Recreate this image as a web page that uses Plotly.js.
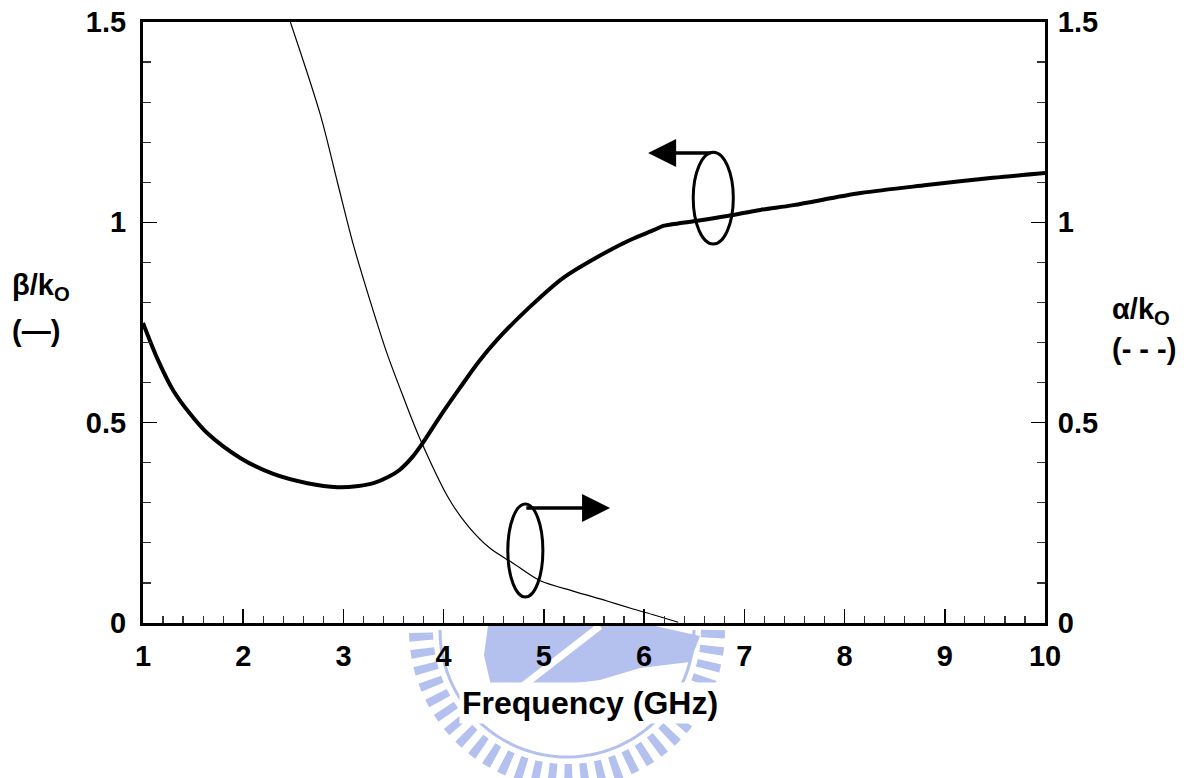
<!DOCTYPE html>
<html>
<head>
<meta charset="utf-8">
<script src="https://cdn.plot.ly/plotly-3.0.1.min.js"></script>
<style>html,body{margin:0;padding:0;background:#fff;}#chart{width:1190px;height:778px;}</style>
</head>
<body>
<div id="chart"></div>
<script>
// beta/k0 (thick curve, left axis)
const betaFreq = [1.00, 1.15, 1.30, 1.47, 1.64, 1.97, 2.30, 2.64, 2.94, 3.15, 3.30, 3.45, 3.56, 3.68, 3.79, 3.96, 4.16, 4.35, 4.53, 4.86, 5.19, 5.53, 5.86, 6.10, 6.19, 6.28, 6.53, 6.83, 7.16, 7.49, 8.16, 8.82, 9.48, 10.0];
const betaVal  = [0.749, 0.656, 0.581, 0.522, 0.474, 0.412, 0.372, 0.349, 0.339, 0.342, 0.349, 0.365, 0.382, 0.412, 0.449, 0.514, 0.586, 0.652, 0.706, 0.789, 0.861, 0.913, 0.956, 0.981, 0.991, 0.995, 1.004, 1.016, 1.031, 1.043, 1.073, 1.093, 1.111, 1.123];
// alpha/k0 (thin curve, right axis)
const alphaFreq = [2.47, 2.77, 2.94, 3.10, 3.27, 3.43, 3.59, 3.76, 4.06, 4.25, 4.46, 4.70, 4.96, 5.30, 5.63, 5.89, 6.10, 6.34];
const alphaVal  = [1.500, 1.268, 1.100, 0.943, 0.801, 0.676, 0.569, 0.462, 0.307, 0.240, 0.187, 0.148, 0.106, 0.079, 0.055, 0.035, 0.020, 0.002];

const xTickVals = [1,2,3,4,5,6,7,8,9,10];
const yTickVals = [0, 0.5, 1, 1.5];
const yTickText = ['0', '0.5', '1', '1.5'];

// ellipse markers: [x0, x1, y0, y1] and arrows: [tailX, headX, y]
const ellipseBeta  = [6.49, 6.89, 0.946, 1.175];
const arrowBeta    = [6.68, 6.04, 1.173];
const ellipseAlpha = [4.64, 4.99, 0.065, 0.297];
const arrowAlpha   = [4.81, 5.66, 0.287];

const FONT = 'Liberation Sans, Arial, Helvetica, sans-serif';

// plot-area pixel box (for decorative watermark placed in paper coords)
const PL = 143, PR = 1045, PT = 22, PB = 623;
const toPx = (px) => (px - PL) / (PR - PL);
const toPy = (py) => (PB - py) / (PB - PT);

// faint watermark ring (decoration), only the part under the plot area
function arcPath(cx, cy, r) {
  let pts = [];
  for (let a = 0; a <= 360; a += 2) {
    const t = a * Math.PI / 180;
    const px = cx + r * Math.cos(t), py = cy + r * Math.sin(t);
    if (py > PB + 3) pts.push([px, py]);
  }
  pts.sort((p, q) => Math.atan2(p[1]-cy, p[0]-cx) - Math.atan2(q[1]-cy, q[0]-cx));
  return 'M' + pts.map(p => toPx(p[0]).toFixed(4) + ',' + toPy(p[1]).toFixed(4)).join('L');
}
function polyPath(list) {
  return 'M' + list.map(p => toPx(p[0]).toFixed(4) + ',' + toPy(p[1]).toFixed(4)).join('L') + 'Z';
}
const WM = '#b4c0ee';

const traces = [
  {x: betaFreq, y: betaVal, type: 'scatter', mode: 'lines', line: {color: '#000', width: 4, shape: 'spline', smoothing: 0.9}, xaxis: 'x', yaxis: 'y', hoverinfo: 'skip'},
  {x: alphaFreq, y: alphaVal, type: 'scatter', mode: 'lines', line: {color: '#000', width: 1.2, shape: 'spline', smoothing: 0.9}, xaxis: 'x', yaxis: 'y2', hoverinfo: 'skip'}
];

const tickFont = {family: FONT, size: 29, color: '#000', weight: 'bold'};

const layout = {
  width: 1190, height: 778,
  margin: {l: 143, r: 145, t: 22, b: 155},
  paper_bgcolor: '#fff', plot_bgcolor: 'rgba(0,0,0,0)',
  showlegend: false,
  xaxis: {
    range: [1, 10], tickvals: xTickVals, ticks: 'inside', ticklen: 14, tickwidth: 1.5, tickcolor: '#000',
    minor: {dtick: 0.2, ticks: 'inside', ticklen: 7, tickwidth: 1.2, tickcolor: '#333', showgrid: false},
    showgrid: false, zeroline: false, showline: true, linewidth: 3, linecolor: '#000', mirror: true,
    tickfont: tickFont, ticklabelstandoff: 5
  },
  yaxis: {
    range: [0, 1.5], tickvals: yTickVals, ticktext: yTickText, ticks: 'inside', ticklen: 14, tickwidth: 1.5, tickcolor: '#000',
    minor: {dtick: 0.1, ticks: 'inside', ticklen: 8, tickwidth: 1.2, tickcolor: '#333', showgrid: false},
    showgrid: false, zeroline: false, showline: true, linewidth: 3, linecolor: '#000',
    tickfont: tickFont, ticklabelstandoff: 8
  },
  yaxis2: {
    range: [0, 1.5], overlaying: 'y', side: 'right', tickvals: yTickVals, ticktext: yTickText, ticks: 'inside', ticklen: 14, tickwidth: 1.5, tickcolor: '#000',
    minor: {dtick: 0.1, ticks: 'inside', ticklen: 8, tickwidth: 1.2, tickcolor: '#333', showgrid: false},
    showgrid: false, zeroline: false, showline: true, linewidth: 3, linecolor: '#000',
    tickfont: tickFont, ticklabelstandoff: 4
  },
  shapes: [
    // watermark (decorative)
    {type: 'path', xref: 'paper', yref: 'paper', layer: 'below', path: arcPath(567, 630, 146), line: {color: WM, width: 24, dash: '8px,8px'}},
    {type: 'path', xref: 'paper', yref: 'paper', layer: 'below', path: arcPath(567, 630, 127), line: {color: WM, width: 3}},
    {type: 'path', xref: 'paper', yref: 'paper', layer: 'below', path: polyPath([[488,626],[655,626],[700,636],[690,662],[640,668],[600,680],[520,690],[492,690],[484,655]]), fillcolor: WM, line: {width: 0}},
    {type: 'path', xref: 'paper', yref: 'paper', layer: 'below', path: 'M' + toPx(515) + ',' + toPy(692) + 'L' + toPx(600) + ',' + toPy(626), line: {color: '#fff', width: 7}},
    // ellipses
    {type: 'circle', xref: 'x', yref: 'y', x0: ellipseBeta[0], x1: ellipseBeta[1], y0: ellipseBeta[2], y1: ellipseBeta[3], line: {color: '#000', width: 3}},
    {type: 'circle', xref: 'x', yref: 'y', x0: ellipseAlpha[0], x1: ellipseAlpha[1], y0: ellipseAlpha[2], y1: ellipseAlpha[3], line: {color: '#000', width: 3}}
  ],
  annotations: [
    {xref: 'x', yref: 'y', axref: 'x', ayref: 'y', x: arrowBeta[1], y: arrowBeta[2], ax: arrowBeta[0], ay: arrowBeta[2], text: '', showarrow: true, arrowhead: 2, arrowwidth: 3.5, arrowsize: 1.6, arrowcolor: '#000'},
    {xref: 'x', yref: 'y', axref: 'x', ayref: 'y', x: arrowAlpha[1], y: arrowAlpha[2], ax: arrowAlpha[0], ay: arrowAlpha[2], text: '', showarrow: true, arrowhead: 2, arrowwidth: 3.5, arrowsize: 1.6, arrowcolor: '#000'},
    {xref: 'paper', yref: 'paper', x: toPx(590), y: toPy(703), xanchor: 'center', yanchor: 'middle', showarrow: false, text: 'Frequency (GHz)', bgcolor: '#fff', borderpad: 2, font: {family: FONT, size: 32, color: '#000', weight: 'bold'}},
    {xref: 'paper', yref: 'paper', x: toPx(10), y: toPy(287), xanchor: 'left', yanchor: 'middle', showarrow: false, text: 'β/k<sub>O</sub>', font: {family: FONT, size: 29, color: '#000', weight: 'bold'}},
    {xref: 'paper', yref: 'paper', x: toPx(10), y: toPy(331), xanchor: 'left', yanchor: 'middle', showarrow: false, text: '(—)', font: {family: FONT, size: 29, color: '#000', weight: 'bold'}},
    {xref: 'paper', yref: 'paper', x: toPx(1110), y: toPy(311), xanchor: 'left', yanchor: 'middle', showarrow: false, text: 'α/k<sub>O</sub>', font: {family: FONT, size: 29, color: '#000', weight: 'bold'}},
    {xref: 'paper', yref: 'paper', x: toPx(1110), y: toPy(349), xanchor: 'left', yanchor: 'middle', showarrow: false, text: '(- - -)', font: {family: FONT, size: 29, color: '#000', weight: 'bold'}}
  ]
};

Plotly.newPlot('chart', traces, layout, {displayModeBar: false, staticPlot: true});
</script>
</body>
</html>
